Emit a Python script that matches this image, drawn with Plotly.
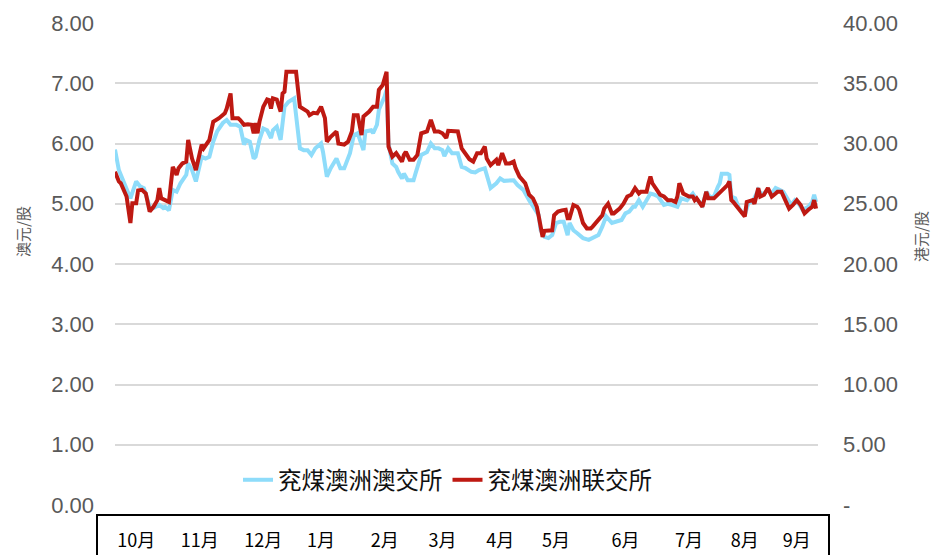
import plotly.graph_objects as go

# ---------------- data ----------------
aud_dates = [
    "2022-10-01","2022-10-03","2022-10-04","2022-10-07","2022-10-09","2022-10-12","2022-10-14","2022-10-16",
    "2022-10-19","2022-10-21","2022-10-24","2022-10-26","2022-10-27","2022-10-29","2022-10-31","2022-11-02",
    "2022-11-04","2022-11-07","2022-11-08","2022-11-10","2022-11-12","2022-11-15","2022-11-17","2022-11-19",
    "2022-11-21","2022-11-23","2022-11-26","2022-11-28","2022-11-30","2022-12-03","2022-12-05","2022-12-07",
    "2022-12-08","2022-12-10","2022-12-12","2022-12-13","2022-12-15","2022-12-17","2022-12-19","2022-12-21",
    "2022-12-22","2022-12-24","2022-12-26","2022-12-28","2022-12-30","2023-01-02","2023-01-03","2023-01-05",
    "2023-01-07","2023-01-09","2023-01-11","2023-01-13","2023-01-16","2023-01-17","2023-01-19","2023-01-21",
    "2023-01-24","2023-01-26","2023-01-28","2023-01-31","2023-02-02","2023-02-04","2023-02-07","2023-02-08",
    "2023-02-11","2023-02-12","2023-02-14","2023-02-15","2023-02-18","2023-02-19","2023-02-20","2023-02-22",
    "2023-02-24","2023-02-25","2023-02-27","2023-02-28","2023-03-02","2023-03-05","2023-03-06","2023-03-09",
    "2023-03-12","2023-03-14","2023-03-16","2023-03-18","2023-03-20","2023-03-21","2023-03-23","2023-03-25",
    "2023-03-28","2023-03-30","2023-04-01","2023-04-04","2023-04-06","2023-04-08","2023-04-11","2023-04-13",
    "2023-04-14","2023-04-17","2023-04-19","2023-04-21","2023-04-24","2023-04-26","2023-04-28","2023-05-01",
    "2023-05-04","2023-05-06","2023-05-09","2023-05-10","2023-05-12","2023-05-14","2023-05-16","2023-05-18",
    "2023-05-20","2023-05-22","2023-05-24","2023-05-25","2023-05-27","2023-05-29","2023-06-01","2023-06-04",
    "2023-06-06","2023-06-09","2023-06-11","2023-06-13","2023-06-16","2023-06-18","2023-06-21","2023-06-23",
    "2023-06-25","2023-06-27","2023-06-28","2023-06-30","2023-07-02","2023-07-04","2023-07-06","2023-07-08",
    "2023-07-10","2023-07-13","2023-07-15","2023-07-17","2023-07-20","2023-07-22","2023-07-25","2023-07-28",
    "2023-07-30","2023-08-02","2023-08-04","2023-08-06","2023-08-08","2023-08-10","2023-08-11","2023-08-12",
    "2023-08-15","2023-08-16","2023-08-17","2023-08-19","2023-08-21","2023-08-24","2023-08-26","2023-08-28",
    "2023-08-31","2023-09-02","2023-09-05","2023-09-07","2023-09-09","2023-09-11","2023-09-13","2023-09-15",
    "2023-09-17","2023-09-19","2023-09-21","2023-09-23","2023-09-26","2023-09-28","2023-09-29","2023-09-30",
]
aud_prices = [
    5.90,5.56,5.48,5.23,5.09,5.37,5.29,5.26,
    4.95,4.93,4.98,4.93,4.95,4.89,5.23,5.20,
    5.34,5.48,5.67,5.56,5.37,5.78,5.75,5.78,
    6.03,6.20,6.34,6.39,6.31,6.31,6.28,5.98,
    6.06,6.03,5.75,5.78,6.06,6.25,6.22,6.09,
    6.22,6.28,6.06,6.61,6.69,6.75,6.50,5.92,
    5.89,5.89,5.81,5.92,6.00,5.86,5.45,5.59,
    5.75,5.59,5.59,5.84,6.14,6.17,5.89,6.20,
    6.22,6.17,6.31,6.56,6.78,6.89,6.00,5.67,
    5.61,5.53,5.42,5.50,5.39,5.39,5.50,5.81,
    5.86,6.00,5.92,5.92,5.89,5.79,5.92,5.84,
    5.84,5.61,5.59,5.53,5.52,5.56,5.59,5.39,
    5.26,5.34,5.42,5.38,5.38,5.39,5.31,5.23,
    5.06,4.96,4.81,4.56,4.45,4.43,4.48,4.68,
    4.70,4.70,4.48,4.68,4.56,4.51,4.43,4.40,
    4.43,4.48,4.62,4.79,4.68,4.70,4.73,4.84,
    4.87,4.95,4.95,5.06,4.95,5.06,5.17,5.15,
    5.12,4.98,5.00,4.98,4.95,5.09,5.06,5.17,
    5.07,4.98,5.20,5.11,5.12,5.28,5.34,5.50,
    5.50,5.48,5.12,5.09,4.92,4.81,5.03,5.03,
    5.23,5.15,5.23,5.17,5.26,5.23,5.20,5.09,
    4.98,5.06,5.00,4.90,4.95,5.03,5.15,5.03,
]

hkd_dates = [
    "2022-10-01","2022-10-03","2022-10-04","2022-10-07","2022-10-08","2022-10-09","2022-10-10","2022-10-12",
    "2022-10-13","2022-10-15","2022-10-17","2022-10-19","2022-10-21","2022-10-23","2022-10-24","2022-10-25",
    "2022-10-27","2022-10-29","2022-10-31","2022-11-02","2022-11-03","2022-11-05","2022-11-07","2022-11-08",
    "2022-11-10","2022-11-12","2022-11-15","2022-11-16","2022-11-19","2022-11-21","2022-11-24","2022-11-27",
    "2022-11-28","2022-11-30","2022-12-01","2022-12-04","2022-12-05","2022-12-07","2022-12-09","2022-12-11",
    "2022-12-12","2022-12-13","2022-12-14","2022-12-15","2022-12-17","2022-12-19","2022-12-20","2022-12-21",
    "2022-12-22","2022-12-24","2022-12-26","2022-12-27","2022-12-28","2022-12-29","2022-12-31","2023-01-03",
    "2023-01-05","2023-01-07","2023-01-09","2023-01-10","2023-01-12","2023-01-14","2023-01-16","2023-01-18",
    "2023-01-19","2023-01-21","2023-01-24","2023-01-25","2023-01-28","2023-01-30","2023-02-01","2023-02-02",
    "2023-02-04","2023-02-06","2023-02-07","2023-02-10","2023-02-12","2023-02-14","2023-02-15","2023-02-17",
    "2023-02-19","2023-02-20","2023-02-22","2023-02-24","2023-02-27","2023-02-28","2023-03-01","2023-03-03",
    "2023-03-05","2023-03-07","2023-03-09","2023-03-12","2023-03-13","2023-03-14","2023-03-16","2023-03-18",
    "2023-03-20","2023-03-22","2023-03-23","2023-03-25","2023-03-28","2023-03-30","2023-04-01","2023-04-03",
    "2023-04-05","2023-04-07","2023-04-09","2023-04-11","2023-04-12","2023-04-14","2023-04-17","2023-04-18",
    "2023-04-20","2023-04-22","2023-04-24","2023-04-26","2023-04-27","2023-04-29","2023-05-02","2023-05-04",
    "2023-05-06","2023-05-08","2023-05-09","2023-05-11","2023-05-12","2023-05-14","2023-05-16","2023-05-17",
    "2023-05-19","2023-05-21","2023-05-23","2023-05-24","2023-05-25","2023-05-27","2023-05-29","2023-05-30",
    "2023-05-31","2023-06-01","2023-06-03","2023-06-05","2023-06-06","2023-06-08","2023-06-11","2023-06-12",
    "2023-06-14","2023-06-16","2023-06-17","2023-06-20","2023-06-22","2023-06-24","2023-06-26","2023-06-28",
    "2023-06-30","2023-07-01","2023-07-04","2023-07-05","2023-07-06","2023-07-07","2023-07-09","2023-07-11",
    "2023-07-13","2023-07-15","2023-07-17","2023-07-19","2023-07-20","2023-07-21","2023-07-23","2023-07-26",
    "2023-07-28","2023-07-29","2023-07-30","2023-08-02","2023-08-04","2023-08-05","2023-08-08","2023-08-09",
    "2023-08-11","2023-08-13","2023-08-15","2023-08-16","2023-08-17","2023-08-18","2023-08-20","2023-08-22",
    "2023-08-24","2023-08-25","2023-08-28","2023-08-29","2023-08-31","2023-09-01","2023-09-03","2023-09-05",
    "2023-09-07","2023-09-09","2023-09-10","2023-09-12","2023-09-14","2023-09-16","2023-09-18","2023-09-20",
    "2023-09-22","2023-09-24","2023-09-26","2023-09-28","2023-09-29","2023-09-30",
]
hkd_prices = [
    27.65,26.85,26.70,25.60,24.50,23.40,25.05,25.05,
    26.10,26.15,25.85,24.35,24.75,25.30,26.30,25.45,
    25.30,25.15,28.05,27.40,27.95,28.35,28.50,30.30,
    28.75,27.80,29.90,29.60,30.30,31.80,32.10,32.50,
    32.90,34.15,32.10,32.10,31.95,31.55,31.60,31.55,
    30.85,31.70,30.85,31.80,33.05,33.65,33.60,32.90,
    33.75,33.65,32.65,34.15,34.30,35.95,35.95,35.95,
    33.05,32.80,32.65,32.35,32.55,32.50,33.05,32.10,
    30.15,30.55,31.00,30.00,29.90,30.15,31.00,32.35,
    32.35,30.70,32.25,32.65,33.05,33.05,34.45,34.85,
    35.95,29.75,28.90,29.20,28.50,29.05,29.30,28.65,
    28.65,29.05,30.85,31.00,31.40,31.95,31.00,31.00,
    30.85,30.45,31.05,31.00,31.00,29.60,29.20,28.70,
    28.50,29.20,29.20,29.75,28.75,28.20,28.65,28.20,
    29.20,28.35,28.35,28.50,27.95,27.25,26.70,25.75,
    25.45,24.75,23.95,22.25,22.75,22.75,22.80,24.05,
    24.35,24.45,24.50,23.80,23.80,24.90,24.75,24.50,
    23.95,23.40,22.95,22.95,23.10,23.50,24.05,24.60,
    25.00,24.20,24.20,24.60,25.00,25.60,25.75,26.30,
    25.85,26.00,26.00,26.70,27.25,26.70,26.15,25.75,
    25.60,25.30,25.30,25.15,25.60,26.70,25.85,25.60,
    25.60,25.30,25.45,24.75,26.00,25.45,25.45,25.60,
    26.00,26.30,26.55,26.85,25.30,25.15,24.75,24.35,
    23.95,25.15,25.30,25.00,26.30,25.60,25.75,26.30,
    25.60,25.85,26.00,26.00,25.30,24.60,24.90,25.30,
    24.90,24.20,24.50,24.75,25.30,24.60,
]

month_tick_dates = ["2022-10-12","2022-11-14","2022-12-17","2023-01-16","2023-02-18","2023-03-20",
                    "2023-04-19","2023-05-18","2023-06-23","2023-07-26","2023-08-24","2023-09-20"]
month_labels = ["10月","11月","12月","1月","2月","3月","4月","5月","6月","7月","8月","9月"]

left_ticks = [0, 1, 2, 3, 4, 5, 6, 7, 8]
right_ticks = [0, 5, 10, 15, 20, 25, 30, 35, 40]
right_tick_text = ["-", "5.00", "10.00", "15.00", "20.00", "25.00", "30.00", "35.00", "40.00"]

series_names = ["兖煤澳洲澳交所", "兖煤澳洲联交所"]

# ---------------- figure ----------------
W, H = 940, 555
OFF = 8                      # page body margin offset
PL, PR, PT, PB = 115, 818, 23, 505   # target plot area in screenshot pixels
ML = PL - OFF
MT = PT - OFF
MR = W - (PR - OFF)
MB = H - (PB - OFF)
pw = W - ML - MR
ph = H - MT - MB

def px_x(p):
    return (p - OFF - ML) / pw

def px_y(p):
    return (H - MB - (p - OFF)) / ph

fig = go.Figure()
fig.add_trace(go.Scatter(
    x=aud_dates, y=aud_prices, name=series_names[0], mode="lines",
    line=dict(color="#8EDCFA", width=4), yaxis="y"))
fig.add_trace(go.Scatter(
    x=hkd_dates, y=hkd_prices, name=series_names[1], mode="lines",
    line=dict(color="#BE1912", width=4), yaxis="y2"))

num_font = dict(family="Liberation Sans, Arial, sans-serif", size=22, color="#595959")
cjk = "Noto Sans CJK SC, sans-serif"

fig.update_layout(
    width=W, height=H,
    margin=dict(l=ML, r=MR, t=MT, b=MB, autoexpand=False),
    plot_bgcolor="white", paper_bgcolor="white",
    showlegend=True,
    legend=dict(orientation="h", x=px_x(238), xanchor="left", y=px_y(480), yanchor="middle",
                font=dict(family=cjk, size=23.5, color="#111111"),
                bgcolor="rgba(0,0,0,0)", itemwidth=30, tracegroupgap=0),
    xaxis=dict(type="date", range=["2022-10-01", "2023-10-01"],
               tickmode="array", tickvals=month_tick_dates, ticktext=month_labels,
               tickfont=dict(family=cjk, size=18, color="black"),
               showgrid=False, zeroline=False, showline=False, ticks="",
               ticklabelstandoff=23),
    yaxis=dict(range=[0, 8], tickmode="array", tickvals=left_ticks, tickformat=".2f",
               tickfont=num_font, showgrid=True, gridcolor="#D9D9D9", gridwidth=2,
               zeroline=False, showline=False, ticks="", ticklabelstandoff=20),
    yaxis2=dict(range=[0, 40], overlaying="y", side="right", tickmode="array",
                tickvals=right_ticks, ticktext=right_tick_text,
                tickfont=num_font, showgrid=False, zeroline=False, showline=False,
                ticks="", ticklabelstandoff=24),
)

# axis titles
fig.add_annotation(text="澳元/股", xref="paper", yref="paper", x=px_x(22), y=px_y(232),
                   xanchor="center", yanchor="middle",
                   showarrow=False, textangle=-90, font=dict(family=cjk, size=15, color="#595959"))
fig.add_annotation(text="港元/股", xref="paper", yref="paper", x=px_x(920), y=px_y(237),
                   xanchor="center", yanchor="middle",
                   showarrow=False, textangle=-90, font=dict(family=cjk, size=15, color="#595959"))

# box around the month labels
fig.add_shape(type="rect", xref="paper", yref="paper",
              x0=px_x(97), x1=px_x(829), y0=px_y(515), y1=px_y(575),
              line=dict(color="black", width=2), fillcolor="rgba(0,0,0,0)", layer="above")

fig.write_html("out.html")
